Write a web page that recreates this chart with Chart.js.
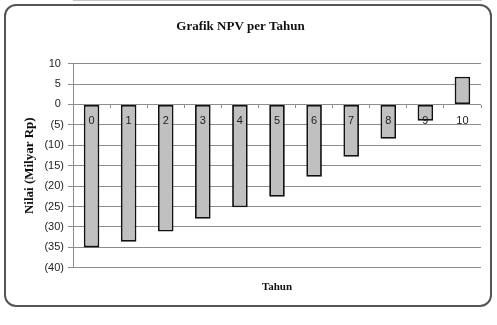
<!DOCTYPE html>
<html>
<head>
<meta charset="utf-8">
<script src="https://cdn.jsdelivr.net/npm/chart.js@4.4.1/dist/chart.umd.min.js"></script>
<style>
  html, body { margin: 0; padding: 0; background: #fff; }
  #wrap { position: relative; width: 497px; height: 325px; }
  #frame {
    position: absolute; left: 4px; top: 4px;
    width: 484px; height: 299px;
    border: 2px solid #555; border-radius: 12px;
  }
  canvas { position: absolute; left: 0; top: 0; }
</style>
</head>
<body>
<div id="wrap">
  <div id="frame"></div>
  <canvas id="npvChart" width="497" height="325"></canvas>
</div>
<script>
// data grafik
const years = ["0", "1", "2", "3", "4", "5", "6", "7", "8", "9", "10"];
const npv = [-35.0, -33.6, -31.1, -28.0, -25.2, -22.6, -17.7, -12.8, -8.4, -4.0, 6.8];
const yMin = -40;
const yMax = 10;
const yStep = 5;

const gridColor = "#8c8c8c";
const textColor = "#222";

// format angka negatif dalam kurung, seperti Excel
function formatTick(v) {
  if (v < 0) return "(" + -v + ")";
  return v + " ";
}

const ctx = document.getElementById("npvChart").getContext("2d");
new Chart(ctx, {
  type: "bar",
  data: {
    labels: years,
    datasets: [
      {
        label: "NPV",
        data: npv,
        backgroundColor: "#c0c0c0",
        borderColor: "#111",
        borderWidth: 1.8,
        borderSkipped: false,
        categoryPercentage: 1,
        barPercentage: 0.42,
      },
    ],
  },
  options: {
    responsive: false,
    animation: false,
    layout: {
      padding: { left: 0, right: 16, top: 0, bottom: 31 },
    },
    plugins: {
      legend: { display: false },
      tooltip: { enabled: false },
      title: {
        display: true,
        text: "Grafik NPV per Tahun",
        color: "#111",
        font: { family: "Liberation Serif", size: 13, weight: "bold" },
        padding: { top: 19, bottom: 29 },
      },
    },
    scales: {
      x: {
        type: "category",
        position: "bottom",
        ticks: { display: false },
        grid: { display: false, drawTicks: false },
        border: { display: false },
        title: {
          display: true,
          text: "Tahun",
          color: "#111",
          font: { family: "Liberation Serif", size: 11, weight: "bold" },
          padding: { top: 13, bottom: 0 },
        },
      },
      // sumbu kategori yang menempel di garis nol, label di atas batang
      x2: {
        type: "category",
        position: { y: 0 },
        offset: true,
        ticks: {
          z: 1,
          color: textColor,
          padding: 7,
          font: { family: "Liberation Sans", size: 11 },
        },
        grid: {
          display: true,
          drawOnChartArea: false,
          drawTicks: true,
          tickLength: 3,
          offset: true,
          color: gridColor,
          z: 1,
        },
        border: { display: true, color: gridColor },
      },
      y: {
        min: yMin,
        max: yMax,
        afterFit: (scale) => {
          scale.width = 73;
        },
        ticks: {
          stepSize: yStep,
          color: textColor,
          padding: 4,
          font: { family: "Liberation Sans", size: 11 },
          callback: (v) => formatTick(v),
        },
        grid: {
          color: gridColor,
          tickLength: 5,
        },
        border: { display: true, color: gridColor },
        title: {
          display: true,
          text: "Nilai (Milyar Rp)",
          color: "#111",
          font: { family: "Liberation Serif", size: 13, weight: "bold" },
          padding: { top: 22, bottom: 0 },
        },
      },
    },
  },
});
</script>
</body>
</html>
